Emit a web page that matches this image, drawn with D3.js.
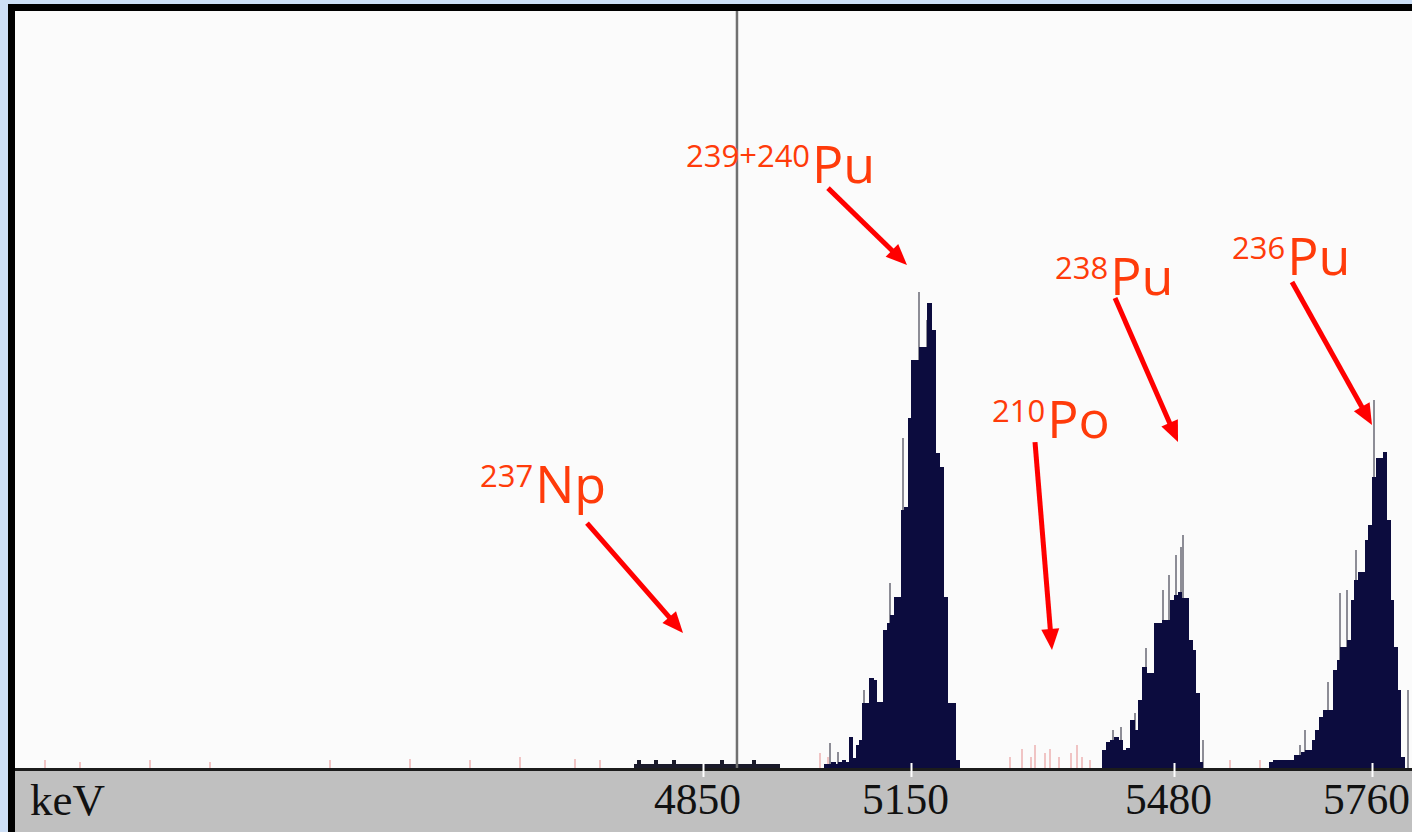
<!DOCTYPE html>
<html><head><meta charset="utf-8">
<script src="https://cdn.jsdelivr.net/npm/d3@7"></script>
<style>html,body{margin:0;padding:0;background:#cddff6;overflow:hidden}</style>
</head><body><svg id="chart" width="1412" height="832"></svg>
<script>
// ---------- data ----------
const tickKeV = [4850, 5150, 5480, 5760];
const axisUnit = "keV";
const binWidth = 5; // keV per channel bin
const markerKeV = 4899; // cursor

const pu239Start = 5025;
const pu239Counts = [1,1,1.5,1,1.5,2,1.5, 8.2,2.6,6,7.4,17.2,17.2,23.8,23.2,17.4,17.4,36.5,38.3,40.4,45.2,45.2,68.2,69,92.5,107.8,107.8,111.2,111.2,122.9,115.7,83.2,79.5,45.2,17.2,17.2,2.1];
const pu238Start = 5390;
const pu238Counts = [4.8,6.9,7.4,8.2,7.4,4.8,5.3,12.7,10,18,26.7,25.1,25.1,38.3,38.3,39.1,39.1,44.4,45.7,46.5,44.9,44.9,33.8,31.2,19.8,1.6];
const pu236Start = 5615;
const pu236Counts = [1.5,2,2,2.1,2.1,2.1,2.1,3.4,3.4,4.2,4.8,4.8,7.4,10,13.5,15.3,15.3,15.3,25.9,28.5,32,32,33.8,44.4,49.7,51.8,51.8,60.2,64.2,76.9,81.9,81.9,83.5,65.5,44.4,32,20.6,2.9];

const bgStart = 4750;
const bgCounts = [1,2,1,1,1,1,2,1,1,1,1,2,1,1,1,1,1,1,1,1,1,1,1,1,1,2,1,1,1,1,1,1,1,1,2,1,1,1,1,1,1,1];

const spikeKeV = [5033,5045,5082,5120,5138.5,5160,5170,5403.5,5413.5,5431,5445,5466,5473.5,5483,5490,5493,5521,5658,5665,5698,5715,5725,5737,5763,5811];
const spikeCounts = [6.6,4.2,20.6,48.9,87.2,125.8,118.4,10,10.8,14.5,31.7,47,51,56.3,58.4,61.6,7.4,6.1,10,22.7,46.2,47,57.6,97.2,20.6];

const pinkKeV = [3901,3951,4052,4139,4312,4427,4514,4586,4665,4701,5019,5030,5274,5289,5300,5306,5318,5324,5336,5351,5358,5364,5374,5559,5602];
const pinkCounts = [2,1.5,2,1.5,2,2.5,2,3,2.5,2,4,3,3,5,3,6,4,5,3,4,6,3,2,2,2];

const labelMass = ["237", "239+240", "210", "238", "236"];
const labelElement = ["Np", "Pu", "Po", "Pu", "Pu"];
const labelKeV = [4528.4, 4825.5, 5251.6, 5330.7, 5562.0];
const labelCount = [70.0, 154.6, 87.2, 125.0, 130.3];
const arrowFromKeV = [4682.7, 5030.3, 5305.6, 5406.0, 5646.9];
const arrowFromCount = [64.7, 153.2, 86.1, 124.2, 128.4];
const arrowToKeV = [4821.2, 5144.2, 5326.9, 5485.7, 5760.0];
const arrowToCount = [35.7, 132.9, 31.2, 86.1, 90.6];

// ---------- layout ----------
const W = 1412, H = 832;
const frameLeft = 8, frameTop = 4;
const plotLeft = 15, plotTop = 11, baseY = 768;
const tickPx = [703, 911, 1174, 1372]; // energy calibration positions on screen

const svg = d3.select("#chart");
const x = d3.scaleLinear().domain(tickKeV).range(tickPx);
const y = d3.scaleLinear().domain([0, 200]).range([baseY, baseY - 757]);

svg.append("rect").attr("width", W).attr("height", H).attr("fill", "#cddff6");
svg.append("rect").attr("x", frameLeft).attr("y", frameTop).attr("width", W - frameLeft).attr("height", H - frameTop).attr("fill", "#000");
svg.append("rect").attr("x", plotLeft).attr("y", plotTop).attr("width", W - plotLeft).attr("height", baseY - plotTop + 2).attr("fill", "#fbfbfb");
svg.append("rect").attr("x", plotLeft).attr("y", 771).attr("width", W - plotLeft).attr("height", H - 771).attr("fill", "#c0c0c0");

const g = svg.append("g").attr("shape-rendering", "crispEdges");

function bins(start, counts) {
  return counts.map((c, i) => ({ e0: start + i * binWidth, e1: start + (i + 1) * binWidth, c }));
}

// spikes (thin, lighter) behind
g.selectAll("rect.spike").data(spikeKeV.map((e, i) => ({ e, c: spikeCounts[i] })))
  .join("rect").attr("class", "spike")
  .attr("x", d => x(d.e) - 1).attr("width", 2)
  .attr("y", d => y(d.c)).attr("height", d => y(0) - y(d.c))
  .attr("fill", "#8d8d96");

// pink noise
g.selectAll("rect.pink").data(pinkKeV.map((e, i) => ({ e, c: pinkCounts[i] })))
  .join("rect").attr("class", "pink")
  .attr("x", d => x(d.e) - 1).attr("width", 2)
  .attr("y", d => y(d.c)).attr("height", d => y(0) - y(d.c))
  .attr("fill", "#f0c4c4");

// background counts
g.selectAll("rect.bg").data(bins(bgStart, bgCounts))
  .join("rect").attr("class", "bg")
  .attr("x", d => x(d.e0)).attr("width", d => x(d.e1) - x(d.e0) + 0.5)
  .attr("y", d => y(d.c)).attr("height", d => y(0) - y(d.c))
  .attr("fill", "#1a1a2a");

// main histogram
const allBins = [].concat(bins(pu239Start, pu239Counts), bins(pu238Start, pu238Counts), bins(pu236Start, pu236Counts));
g.selectAll("rect.bin").data(allBins)
  .join("rect").attr("class", "bin")
  .attr("x", d => x(d.e0)).attr("width", d => x(d.e1) - x(d.e0) + 1)
  .attr("y", d => y(d.c)).attr("height", d => y(0) - y(d.c))
  .attr("fill", "#0c0c3e");

// axis line
svg.append("line").attr("x1", plotLeft).attr("x2", W).attr("y1", 769.5).attr("y2", 769.5)
  .attr("stroke", "#1c1c1c").attr("stroke-width", 3);

// axis ticks + labels
const axis = d3.axisBottom(x).tickValues(tickKeV).tickSize(14).tickPadding(6).tickFormat(d3.format("d"));
const ag = svg.append("g").attr("transform", "translate(0,763)").call(axis);
ag.select(".domain").remove();
ag.selectAll(".tick line").attr("stroke", "#ffffff").attr("stroke-width", 2);
ag.selectAll(".tick text").attr("fill", "#111").attr("dx", -6)
  .style("font-family", "'Liberation Serif', serif").style("font-size", "43.5px");

svg.append("text").attr("x", 30).attr("y", 815).text(axisUnit)
  .attr("fill", "#111").style("font-family", "'Liberation Serif', serif").style("font-size", "45px");

// cursor
svg.append("line").attr("x1", x(markerKeV)).attr("x2", x(markerKeV)).attr("y1", plotTop).attr("y2", baseY)
  .attr("stroke", "#707070").attr("stroke-width", 2.5);

// annotations
const ann = svg.append("g");
labelMass.forEach((m, i) => {
  const t = ann.append("text").attr("x", x(labelKeV[i])).attr("y", y(labelCount[i]))
    .attr("fill", "#ff3b0a").style("font-family", "'Open Sans', sans-serif");
  t.append("tspan").text(m).style("font-size", "31px").attr("dy", -16);
  t.append("tspan").text(labelElement[i]).style("font-size", "52px").attr("dy", 16).attr("dx", 2);

  const x1 = x(arrowFromKeV[i]), y1 = y(arrowFromCount[i]);
  const x2 = x(arrowToKeV[i]), y2 = y(arrowToCount[i]);
  const ang = Math.atan2(y2 - y1, x2 - x1);
  const hl = 21, hw = 9;
  const bx = x2 - hl * Math.cos(ang), by = y2 - hl * Math.sin(ang);
  ann.append("line").attr("x1", x1).attr("y1", y1).attr("x2", bx + 2 * Math.cos(ang)).attr("y2", by + 2 * Math.sin(ang))
    .attr("stroke", "#ff0000").attr("stroke-width", 5);
  const px = -Math.sin(ang), py = Math.cos(ang);
  ann.append("polygon")
    .attr("points", [[x2, y2], [bx + hw * px, by + hw * py], [bx - hw * px, by - hw * py]].map(p => p.join(",")).join(" "))
    .attr("fill", "#ff0000");
});
</script></body></html>
